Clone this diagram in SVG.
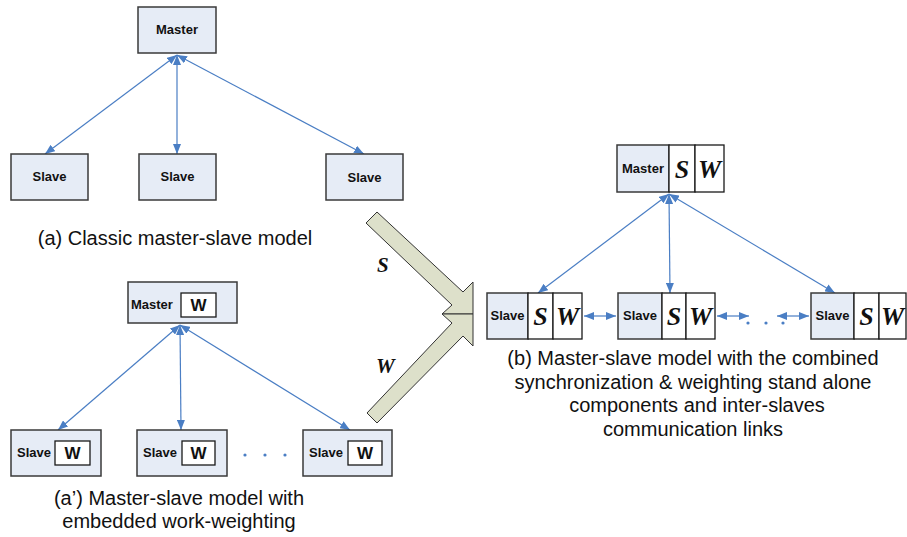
<svg xmlns="http://www.w3.org/2000/svg" width="907" height="537" viewBox="0 0 907 537">
<defs>
<marker id="ah" viewBox="0 0 10 8" refX="10" refY="4" markerWidth="10" markerHeight="8" markerUnits="userSpaceOnUse" orient="auto-start-reverse">
<path d="M0,0 L10,4 L0,8 z" fill="#4a7ec4"/>
</marker>
<style>
.box{fill:#e6ecf6;stroke:#3a3a3a;stroke-width:1.5}
.wbox{fill:#ffffff;stroke:#1a1a1a;stroke-width:1.3}
.lbl{font-family:"Liberation Sans",Arial,sans-serif;font-weight:bold;font-size:13px;fill:#111}
.wl{font-family:"Liberation Sans",Arial,sans-serif;font-weight:bold;font-size:17px;fill:#111}
.sw{font-family:"Liberation Serif","Times New Roman",serif;font-weight:bold;font-style:italic;font-size:26px;fill:#111}
.big{font-family:"Liberation Serif","Times New Roman",serif;font-weight:bold;font-style:italic;font-size:21px;fill:#111}
.cap{font-family:"Liberation Sans",Arial,sans-serif;font-size:20px;fill:#111}
.ln{stroke:#4a7ec4;stroke-width:1.2;fill:none;marker-start:url(#ah);marker-end:url(#ah)}
.blk{fill:#dde0ca;stroke:#333;stroke-width:1}
.dot{fill:#4a7ec4}
</style>
</defs>

<g id="connectors">
<line class="ln" x1="177" y1="55" x2="45" y2="154"/>
<line class="ln" x1="177" y1="55" x2="177" y2="154"/>
<line class="ln" x1="177" y1="55" x2="364" y2="154"/>
<line class="ln" x1="180" y1="325" x2="58" y2="430"/>
<line class="ln" x1="180" y1="325" x2="181" y2="430"/>
<line class="ln" x1="180" y1="325" x2="350" y2="430"/>
<line class="ln" x1="669" y1="194" x2="538" y2="293"/>
<line class="ln" x1="669" y1="194" x2="670" y2="293"/>
<line class="ln" x1="669" y1="194" x2="835" y2="293"/>
<line class="ln" x1="584" y1="316" x2="616" y2="316"/>
<line class="ln" x1="717" y1="316" x2="749" y2="316"/>
<line class="ln" x1="777" y1="316" x2="809" y2="316"/>
</g>

<g id="dots">
<circle class="dot" cx="245" cy="455" r="1.6"/>
<circle class="dot" cx="265" cy="455" r="1.6"/>
<circle class="dot" cx="285" cy="455" r="1.6"/>
<circle class="dot" cx="748" cy="323" r="1.6"/>
<circle class="dot" cx="766" cy="323" r="1.6"/>
<circle class="dot" cx="783" cy="323" r="1.6"/>
</g>

<g id="master-a">
<rect class="box" x="138" y="7" width="78" height="46"/>
<text class="lbl" x="177" y="34" text-anchor="middle">Master</text>
</g>
<g id="slave-a1">
<rect class="box" x="11" y="154" width="77" height="46"/>
<text class="lbl" x="49.5" y="181" text-anchor="middle">Slave</text>
</g>
<g id="slave-a2">
<rect class="box" x="139" y="154" width="77" height="46"/>
<text class="lbl" x="177.5" y="181" text-anchor="middle">Slave</text>
</g>
<g id="slave-a3">
<rect class="box" x="326" y="154" width="77" height="46"/>
<text class="lbl" x="364.5" y="182" text-anchor="middle">Slave</text>
</g>
<text class="cap" x="175" y="245" text-anchor="middle">(a) Classic master-slave model</text>

<g id="master-a2">
<rect class="box" x="128" y="282" width="109" height="41"/>
<text class="lbl" x="131" y="309">Master</text>
<rect class="wbox" x="181" y="293" width="35" height="24"/>
<text class="wl" x="198.5" y="311" text-anchor="middle">W</text>
</g>
<g id="slave-b1">
<rect class="box" x="11" y="430" width="90" height="46"/>
<text class="lbl" x="17" y="457">Slave</text>
<rect class="wbox" x="55" y="441" width="35" height="24"/>
<text class="wl" x="72.5" y="459" text-anchor="middle">W</text>
</g>
<g id="slave-b2">
<rect class="box" x="137" y="430" width="90" height="46"/>
<text class="lbl" x="143" y="457">Slave</text>
<rect class="wbox" x="182" y="441" width="33" height="24"/>
<text class="wl" x="198.5" y="459" text-anchor="middle">W</text>
</g>
<g id="slave-b3">
<rect class="box" x="303" y="430" width="89" height="46"/>
<text class="lbl" x="309" y="457">Slave</text>
<rect class="wbox" x="348" y="441" width="34" height="24"/>
<text class="wl" x="365" y="459" text-anchor="middle">W</text>
</g>
<text class="cap" x="179" y="505" text-anchor="middle">(a’) Master-slave model with</text>
<text class="cap" x="179" y="528" text-anchor="middle">embedded work-weighting</text>

<g id="big-arrows">
<polygon class="blk" points="377,212 463,292 473,282 473,314 442,314 452,305 366,223"/>
<polygon class="blk" points="367,413 452,323 442,314 473,314 473,346 463,336 377,423"/>
<text class="big" x="377" y="272">S</text>
<text class="big" x="376" y="373">W</text>
</g>

<g id="master-c">
<rect class="box" x="617" y="145" width="52" height="47"/>
<rect class="wbox" x="669" y="145" width="26" height="47"/>
<rect class="wbox" x="695" y="145" width="29" height="47"/>
<text class="lbl" x="643" y="173" text-anchor="middle">Master</text>
<text class="sw" x="682" y="178" text-anchor="middle">S</text>
<text class="sw" x="709.5" y="178" text-anchor="middle">W</text>
</g>
<g id="slave-c1">
<rect class="box" x="487" y="293" width="41" height="46"/>
<rect class="wbox" x="528" y="293" width="25" height="46"/>
<rect class="wbox" x="553" y="293" width="29" height="46"/>
<text class="lbl" x="507.5" y="320" text-anchor="middle">Slave</text>
<text class="sw" x="540.5" y="325" text-anchor="middle">S</text>
<text class="sw" x="567.5" y="325" text-anchor="middle">W</text>
</g>
<g id="slave-c2">
<rect class="box" x="618" y="293" width="44" height="46"/>
<rect class="wbox" x="662" y="293" width="24" height="46"/>
<rect class="wbox" x="686" y="293" width="29" height="46"/>
<text class="lbl" x="640" y="320" text-anchor="middle">Slave</text>
<text class="sw" x="674" y="325" text-anchor="middle">S</text>
<text class="sw" x="700.5" y="325" text-anchor="middle">W</text>
</g>
<g id="slave-c3">
<rect class="box" x="811" y="293" width="43" height="46"/>
<rect class="wbox" x="854" y="293" width="25" height="46"/>
<rect class="wbox" x="879" y="293" width="27" height="46"/>
<text class="lbl" x="832.5" y="320" text-anchor="middle">Slave</text>
<text class="sw" x="866.5" y="325" text-anchor="middle">S</text>
<text class="sw" x="892.5" y="325" text-anchor="middle">W</text>
</g>
<text class="cap" x="693" y="365" text-anchor="middle">(b) Master-slave model with the combined</text>
<text class="cap" x="693" y="389" text-anchor="middle">synchronization &amp; weighting stand alone</text>
<text class="cap" x="697" y="412" text-anchor="middle">components and inter-slaves</text>
<text class="cap" x="693" y="436" text-anchor="middle">communication links</text>
</svg>
